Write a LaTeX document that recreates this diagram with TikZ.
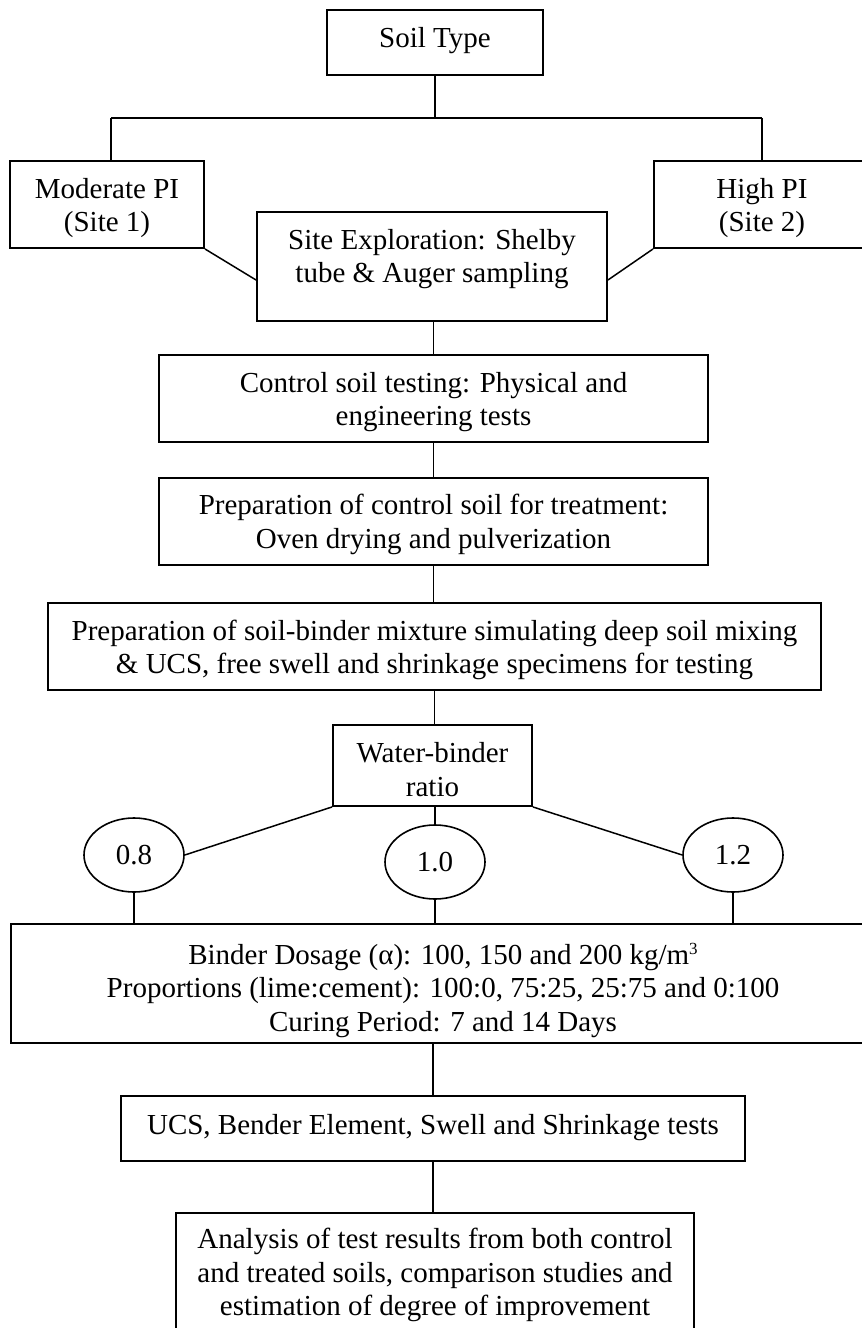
\documentclass[tikz,border=0pt]{standalone}
\usepackage{fontspec}
\setmainfont{Liberation Serif}
\usetikzlibrary{shapes.geometric,calc}
\begin{document}
\begin{tikzpicture}[x=1pt,y=-1pt,
  box/.style={draw,line width=1.9pt,rectangle,inner sep=0pt},
  oval/.style={draw,line width=1.6pt,ellipse,inner sep=0pt,minimum width=100pt,minimum height=74pt,font=\fontsize{29}{33.5}\selectfont},
  txt/.style={inner sep=0pt,align=center,font=\fontsize{29}{33.5}\selectfont},
  link/.style={line width=1.5pt}]
\useasboundingbox (0,0) rectangle (862,1328);
\clip (0,0) rectangle (862,1328);
\fill[white] (0,0) rectangle (862,1328);

\node[box,minimum width=216pt,minimum height=65pt] (soil) at (435,42.5) {};
\node[txt] (soilT) at (435,40.5) {Soil Type};
\node[box,minimum width=194pt,minimum height=87pt] (mod) at (107,204.5) {};
\node[txt] (modT) at (107,208) {Moderate PI\\(Site 1)};
\node[box,minimum width=216pt,minimum height=87pt] (high) at (762,204.5) {};
\node[txt] (highT) at (762,208) {High PI\\(Site 2)};
\node[box,minimum width=350pt,minimum height=109pt] (site) at (432,266.5) {};
\node[txt] (siteT) at (432,259) {Site Exploration: Shelby\\tube \& Auger sampling};
\node[box,minimum width=549pt,minimum height=87pt] (ctrl) at (433.5,398.5) {};
\node[txt] (ctrlT) at (433.5,402) {Control soil testing: Physical and\\engineering tests};
\node[box,minimum width=549pt,minimum height=87pt] (oven) at (433.5,521.5) {};
\node[txt] (ovenT) at (433.5,524.5) {Preparation of control soil for treatment:\\Oven drying and pulverization};
\node[box,minimum width=773pt,minimum height=87pt] (prep) at (434.5,646.5) {};
\node[txt] (prepT) at (434.5,650) {Preparation of soil-binder mixture simulating deep soil mixing\\\& UCS, free swell and shrinkage specimens for testing};
\node[box,minimum width=199pt,minimum height=81pt] (water) at (432.5,765.5) {};
\node[txt] (waterT) at (432.5,769.5) {Water-binder\\ratio};
\node[oval] (e08) at (134,855) {0.8};
\node[oval] (e10) at (435,862) {1.0};
\node[oval] (e12) at (733,855) {1.2};
\node[box,minimum width=864pt,minimum height=119pt] (binder) at (443,983.5) {};
\node[txt] (binderT) at (443,990) {Binder Dosage (α): 100, 150 and 200 kg/m{\fontsize{17}{17}\selectfont\raisebox{10pt}{3}}\\Proportions (lime:cement): 100:0, 75:25, 25:75 and 0:100\\Curing Period: 7 and 14 Days};
\node[box,minimum width=624pt,minimum height=65pt] (ucs) at (433,1128.5) {};
\node[txt] (ucsT) at (433,1127.5) {UCS, Bender Element, Swell and Shrinkage tests};
\node[box,minimum width=518pt,minimum height=120pt] (ana) at (435,1273) {};
\node[txt] (anaT) at (435,1275) {Analysis of test results from both control\\and treated soils, comparison studies and\\estimation of degree of improvement};

\coordinate (jc) at (435,118);
\coordinate (jl) at (111,118);
\coordinate (jr) at (762,118);
\draw[link] (soil.south) -- (jc);
\draw[link] (jl) -- (jr);
\draw[link] (jl) -- (jl |- mod.north);
\draw[link] (jr) -- (jr |- high.north);
\draw[link] (mod.south east) -- ([yshift=-13.5pt]site.west);
\draw[link] (high.south west) -- ([yshift=-13.5pt]site.east);
\draw[link] (ctrl.north) -- (ctrl.north |- site.south);
\draw[link] (ctrl.south) -- (oven.north);
\draw[link] (oven.south) -- (oven.south |- prep.north);
\draw[link] (prep.south) -- (prep.south |- water.north);
\draw[link] (water.south west) -- (e08.east);
\draw[link] (water.south east) -- (e12.west);
\draw[link] (e10.north) -- (e10.north |- water.south);
\draw[link] (e08.south) -- (e08.south |- binder.north);
\draw[link] (e10.south) -- (e10.south |- binder.north);
\draw[link] (e12.south) -- (e12.south |- binder.north);
\draw[link] (ucs.north |- binder.south) -- (ucs.north);
\draw[link] (ucs.south) -- (ucs.south |- ana.north);
\end{tikzpicture}
\end{document}
